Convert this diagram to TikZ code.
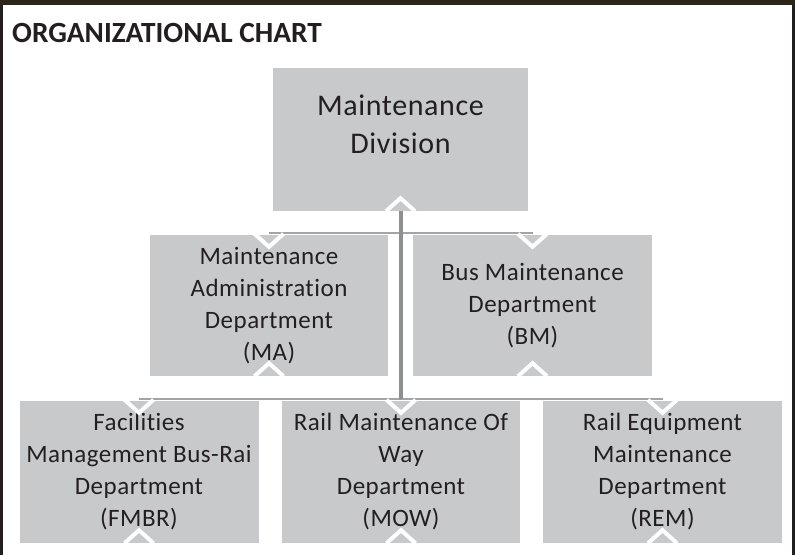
\documentclass[tikz,border=0pt]{standalone}
\usepackage{fontspec}
\setmainfont{Carlito}[Ligatures=NoCommon]
\newfontfamily\boxfont{Carlito}[LetterSpace=2, Ligatures=NoCommon]
\definecolor{boxgray}{HTML}{C8C9CB}
\definecolor{txt}{HTML}{231F20}
\definecolor{hline}{HTML}{A3A4A6}
\definecolor{vline}{HTML}{8E8F91}
\definecolor{framedark}{HTML}{231F20}
\definecolor{topbrown}{HTML}{2B2619}
\begin{document}
\begin{tikzpicture}[x=1pt,y=-1pt,
  box/.style={fill=boxgray, draw=none, inner sep=0pt, minimum width=239pt,
    minimum height=142pt, align=center, text=txt,
    font=\boxfont\fontsize{25}{32}\selectfont},
  topbox/.style={box, minimum width=255pt, minimum height=143pt,
    font=\boxfont\fontsize{30}{38}\selectfont},
  hconn/.style={draw=hline, line width=2.5pt},
  vconn/.style={draw=vline, line width=4pt},
  chev/.style={draw=white, line width=4pt, line join=miter}]
\useasboundingbox (0,0) rectangle (795,555);
\fill[white] (0,0) rectangle (795,555);
% frame
\draw[line width=3pt, framedark] (1.5,555) -- (1.5,2);
\draw[line width=3pt, framedark] (793.5,2) -- (793.5,555);
\draw[line width=4.5pt, topbrown] (0,2.25) -- (795,2.25);
% title
\node[anchor=base west, inner sep=0pt, text=txt,
  font=\bfseries\fontsize{29.3}{35}\selectfont] (title) at (12,42) {ORGANIZATIONAL CHART};
% boxes
\node[topbox] (top) at (400.5,139.5) {Maintenance\\Division\\[-7pt]\mbox{}};
\node[box, minimum width=238pt, minimum height=141pt] (ma) at (269,305.5)
  {Maintenance\\Administration\\Department\\(MA)};
\node[box, minimum height=141pt] (bm) at (532.5,305.5)
  {Bus Maintenance\\Department\\(BM)};
\node[box] (fmbr) at (139,472) {Facilities\\Management Bus-Rai\\Department\\(FMBR)};
\node[box, minimum width=238pt] (mow) at (401,472) {Rail Maintenance Of\\Way\\Department\\(MOW)};
\node[box] (rem) at (662.5,472) {Rail Equipment\\Maintenance\\Department\\(REM)};
% connectors
\coordinate (j2) at ([yshift=2pt]top.south |- mow.north);
\draw[hconn] ([yshift=2pt]ma.north) -- ([yshift=2pt]bm.north);
\draw[hconn] ([yshift=2pt]fmbr.north) -- ([yshift=2pt]rem.north);
\draw[vconn] (top.south) -- (j2);
% chevrons
\foreach \n in {top,ma,bm,fmbr,mow,rem}{
  \draw[chev] ([xshift=-14.5pt]\n.south) -- ([yshift=13pt]\n.south) -- ([xshift=14.5pt]\n.south);
}
\foreach \n in {ma,bm,fmbr,mow,rem}{
  \draw[chev] ([xshift=-14.5pt,yshift=1pt]\n.north) -- ([yshift=-12pt]\n.north) -- ([xshift=14.5pt,yshift=1pt]\n.north);
}
\end{tikzpicture}
\end{document}
